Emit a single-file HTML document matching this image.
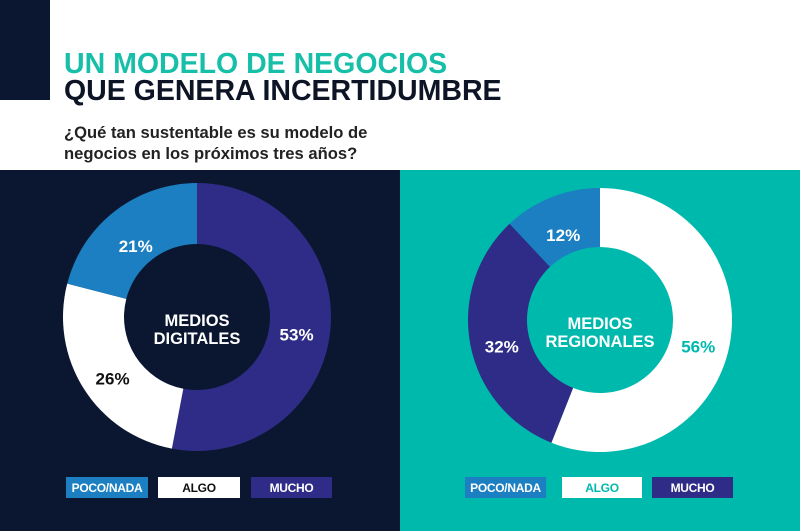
<!DOCTYPE html>
<html><head><meta charset="utf-8"><style>
body{margin:0;width:800px;height:531px;overflow:hidden;background:#fff;font-family:"Liberation Sans",sans-serif;position:relative}
.abs{position:absolute}
.t{font-weight:bold;font-size:28.5px;line-height:27px;letter-spacing:0px}
.lg{position:absolute;top:477px;height:21px;font:bold 12px "Liberation Sans",sans-serif;display:flex;align-items:center;justify-content:center;letter-spacing:-0.3px}
</style></head><body>
<div class="abs" style="left:0;top:0;width:50px;height:100px;background:#0b1730"></div>
<div class="abs t" style="left:64px;top:51px;color:#17bfa9">UN MODELO DE NEGOCIOS</div>
<div class="abs t" style="left:64px;top:78px;color:#0d1426">QUE GENERA INCERTIDUMBRE</div>
<div class="abs" style="left:64px;top:122px;font-weight:bold;font-size:16.6px;line-height:21px;color:#222">¿Qué tan sustentable es su modelo de<br>negocios en los próximos tres años?</div>
<div class="abs" style="left:0;top:170px;width:400px;height:361px;background:#0b1730"></div>
<div class="abs" style="left:400px;top:170px;width:400px;height:361px;background:#00b9ad"></div>
<svg id="svg" class="abs" style="left:0;top:0" width="800" height="531"></svg>
<div class="lg" style="left:66px;width:82px;background:#1b7fc2;color:#fff">POCO/NADA</div>
<div class="lg" style="left:158px;width:82px;background:#fff;color:#111">ALGO</div>
<div class="lg" style="left:251px;width:81px;background:#2e2c86;color:#fff">MUCHO</div>
<div class="lg" style="left:465px;width:81px;background:#1b7fc2;color:#fff">POCO/NADA</div>
<div class="lg" style="left:562px;width:80px;background:#fff;color:#00b9ad">ALGO</div>
<div class="lg" style="left:652px;width:81px;background:#2e2c86;color:#fff">MUCHO</div>
<script>
const digitalCategories=["MUCHO","ALGO","POCO/NADA"];
const digitalValues=[53,26,21];
const regionalCategories=["ALGO","MUCHO","POCO/NADA"];
const regionalValues=[56,32,12];
const colorMap={"MUCHO":"#2e2c86","ALGO":"#ffffff","POCO/NADA":"#1b7fc2"};
const svg=document.getElementById('svg');
const NS="http://www.w3.org/2000/svg";
function pt(cx,cy,r,f){const a=f*2*Math.PI-Math.PI/2;return [cx+r*Math.cos(a),cy+r*Math.sin(a)];}
function donut(cx,cy,R,r,cats,vals,labelColors,labelR,center,centerColor,prefix){
  const tot=vals.reduce((a,b)=>a+b,0);let acc=0;
  cats.forEach((c,i)=>{
    const f0=acc/tot,f1=(acc+vals[i])/tot;acc+=vals[i];
    const [x0,y0]=pt(cx,cy,R,f0),[x1,y1]=pt(cx,cy,R,f1),[x2,y2]=pt(cx,cy,r,f1),[x3,y3]=pt(cx,cy,r,f0);
    const lg=(f1-f0)>0.5?1:0;
    const p=document.createElementNS(NS,'path');
    p.setAttribute('d',`M${x0},${y0}A${R},${R} 0 ${lg} 1 ${x1},${y1}L${x2},${y2}A${r},${r} 0 ${lg} 0 ${x3},${y3}Z`);
    p.setAttribute('fill',colorMap[c]);
    
    
    svg.appendChild(p);
    const [lx,ly]=pt(cx,cy+8,labelR,(f0+f1)/2);
    const t=document.createElementNS(NS,'text');
    t.setAttribute('x',lx);t.setAttribute('y',ly+6);t.setAttribute('text-anchor','middle');
    t.setAttribute('font-family','Liberation Sans, sans-serif');t.setAttribute('font-weight','bold');t.setAttribute('font-size','17');
    t.setAttribute('fill',labelColors[c]);t.textContent=vals[i]+'%';
    
    
    svg.appendChild(t);
  });
  center.forEach((s,k)=>{
    const t=document.createElementNS(NS,'text');
    t.setAttribute('x',cx);t.setAttribute('y',cy+9+k*18);t.setAttribute('text-anchor','middle');
    t.setAttribute('font-family','Liberation Sans, sans-serif');t.setAttribute('font-weight','bold');t.setAttribute('font-size','16.5');
    t.setAttribute('fill',centerColor);t.textContent=s;
    
    
    svg.appendChild(t);
  });
}
donut(197,317,134,73,digitalCategories,digitalValues,{"MUCHO":"#fff","ALGO":"#111","POCO/NADA":"#fff"},100,["MEDIOS","DIGITALES"],"#fff","digital");
donut(600,320,132,73,regionalCategories,regionalValues,{"MUCHO":"#fff","ALGO":"#00b9ad","POCO/NADA":"#fff"},100,["MEDIOS","REGIONALES"],"#fff","regional");
</script>
</body></html>
